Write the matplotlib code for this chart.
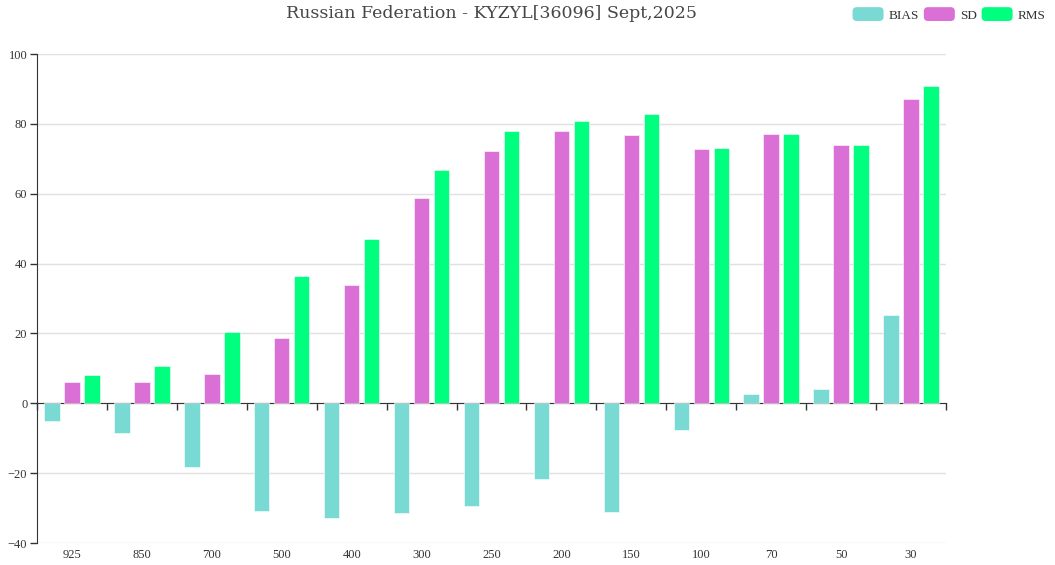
import numpy as np
import matplotlib.pyplot as plt
from matplotlib.patches import Patch, FancyBboxPatch
from matplotlib.legend_handler import HandlerPatch

levels = ["925", "850", "700", "500", "400", "300", "250", "200", "150", "100", "70", "50", "30"]
bias = [-5.1, -8.4, -18.3, -30.9, -32.8, -31.4, -29.3, -21.8, -31.1, -7.7, 2.6, 4.0, 25.4]
sd = [6.2, 6.0, 8.5, 18.7, 33.8, 58.9, 72.1, 77.9, 76.9, 72.9, 77.0, 73.9, 87.1]
rms = [8.0, 10.6, 20.3, 36.3, 47.1, 66.7, 78.0, 80.8, 82.9, 73.2, 77.0, 74.0, 90.9]

series_names = ["BIAS", "SD", "RMS"]
colors = ["#79dad3", "#da70d6", "#00ff7f"]
title = "Russian Federation - KYZYL[36096] Sept,2025"


class RoundHandler(HandlerPatch):
    def create_artists(self, legend, orig_handle, xdescent, ydescent, width, height, fontsize, trans):
        p = FancyBboxPatch((-xdescent, -ydescent - 1.5), width, height + 3,
                           boxstyle="round,pad=0,rounding_size=3",
                           facecolor=orig_handle.get_facecolor(), edgecolor="none", transform=trans)
        return [p]


def main():
    fig = plt.figure(figsize=(10.55, 5.65), dpi=100)
    ax = fig.add_axes([37 / 1055, 22 / 565, 909 / 1055, 489 / 565])

    x = np.arange(len(levels))
    offsets = [-0.286, 0.0, 0.286]
    width = 0.222
    for vals, off, col, name in zip([bias, sd, rms], offsets, colors, series_names):
        ax.bar(x + off, vals, width, color=col, edgecolor="#ffffff", linewidth=0.4, label=name, zorder=3)

    ax.set_xlim(-0.5, len(levels) - 0.5)
    ax.set_ylim(-40, 100)
    ax.set_yticks(np.arange(-40, 101, 20))
    ax.yaxis.grid(True, color="#e0e0e0", linewidth=1)
    ax.set_axisbelow(True)

    tick_font = {"family": "Liberation Serif", "size": 9}
    for lab in ax.get_yticklabels():
        lab.set_fontfamily("Liberation Serif")
        lab.set_fontsize(9)
    ax.tick_params(axis="y", length=5, width=1, color="#333333", labelcolor="#333333", pad=2)

    for s in ["top", "right"]:
        ax.spines[s].set_visible(False)
    ax.spines["left"].set_color("#333333")
    ax.spines["bottom"].set_position(("data", 0))
    ax.spines["bottom"].set_color("#333333")
    ax.set_xticks(np.arange(-0.5, len(levels)))
    ax.set_xticklabels([])
    ax.tick_params(axis="x", length=5, width=1, color="#333333")

    sec = ax.secondary_xaxis("bottom")
    sec.set_xticks(x)
    sec.set_xticklabels(levels, fontdict=tick_font, color="#333333")
    sec.tick_params(length=0, pad=4)
    sec.spines["bottom"].set_visible(False)

    fig.text(491 / 1055, 1 - 14 / 565, title, ha="center", va="center",
             fontsize=12.5, family="DejaVu Serif", color="#464646")

    handles = [Patch(facecolor=c) for c in colors]
    fig.legend(handles, series_names, loc="upper right", bbox_to_anchor=(1.0, 1.0),
               ncol=3, frameon=False, handlelength=2.35, handleheight=0.75, handletextpad=0.4,
               columnspacing=0.35, prop={"family": "Liberation Serif", "size": 9.5},
               labelcolor="#333333", handler_map={Patch: RoundHandler()}, borderaxespad=0.3)

    fig.savefig("out.png", dpi=100)


if __name__ == "__main__":
    main()
